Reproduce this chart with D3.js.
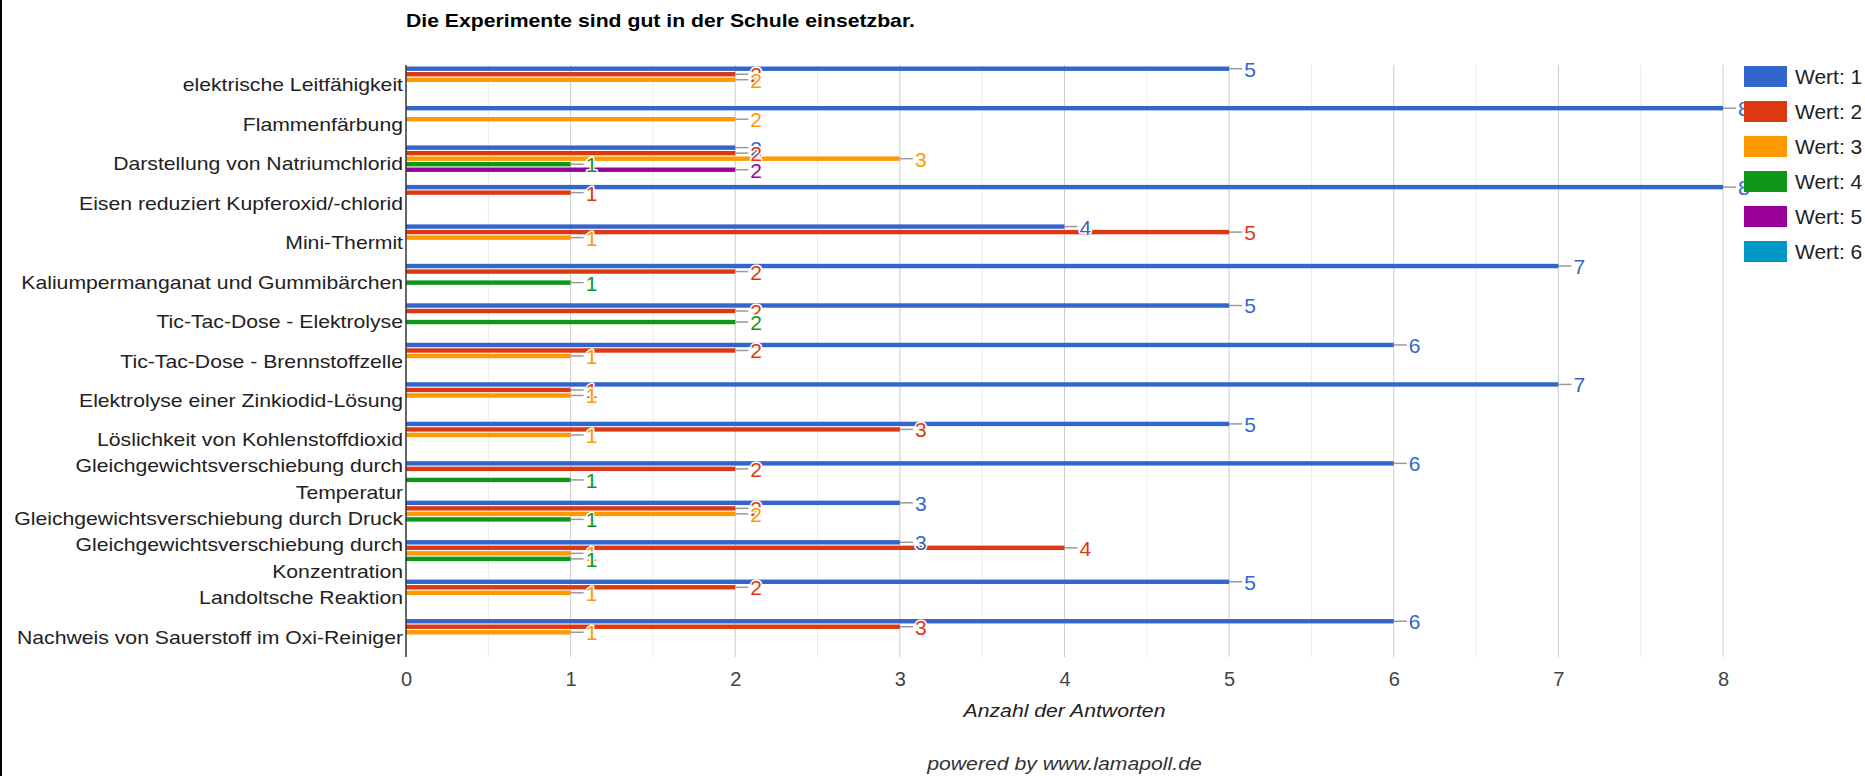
<!DOCTYPE html>
<html>
<head>
<meta charset="utf-8">
<script src="https://cdnjs.cloudflare.com/ajax/libs/d3/7.8.5/d3.min.js"></script>
<style>
  body { margin: 0; background: #fff; }
  svg text { font-family: "Liberation Sans", Arial, sans-serif; }
</style>
</head>
<body>
<svg id="chart"></svg>
<script>
//
// Data
//

var title = 'Die Experimente sind gut in der Schule einsetzbar.'
var axisTitle = 'Anzahl der Antworten'
var footer = 'powered by www.lamapoll.de'

var categories = [
  'elektrische Leitfähigkeit',
  'Flammenfärbung',
  'Darstellung von Natriumchlorid',
  'Eisen reduziert Kupferoxid/-chlorid',
  'Mini-Thermit',
  'Kaliumpermanganat und Gummibärchen',
  'Tic-Tac-Dose - Elektrolyse',
  'Tic-Tac-Dose - Brennstoffzelle',
  'Elektrolyse einer Zinkiodid-Lösung',
  'Löslichkeit von Kohlenstoffdioxid',
  'Gleichgewichtsverschiebung durch Temperatur',
  'Gleichgewichtsverschiebung durch Druck',
  'Gleichgewichtsverschiebung durch Konzentration',
  'Landoltsche Reaktion',
  'Nachweis von Sauerstoff im Oxi-Reiniger'
]

var seriesNames = ['Wert: 1', 'Wert: 2', 'Wert: 3', 'Wert: 4', 'Wert: 5', 'Wert: 6']
var seriesColors = ['#3366cc', '#dc3912', '#ff9900', '#109618', '#990099', '#0099c6']

var wert1 = [5, 8, 2, 8, 4, 7, 5, 6, 7, 5, 6, 3, 3, 5, 6]
var wert2 = [2, 0, 2, 1, 5, 2, 2, 2, 1, 3, 2, 2, 4, 2, 3]
var wert3 = [2, 2, 3, 0, 1, 0, 0, 1, 1, 1, 0, 2, 1, 1, 1]
var wert4 = [0, 0, 1, 0, 0, 1, 2, 0, 0, 0, 1, 1, 1, 0, 0]
var wert5 = [0, 0, 2, 0, 0, 0, 0, 0, 0, 0, 0, 0, 0, 0, 0]
var wert6 = [0, 0, 0, 0, 0, 0, 0, 0, 0, 0, 0, 0, 0, 0, 0]

var xTicks = [0, 1, 2, 3, 4, 5, 6, 7, 8]

//
// Configuration
//

var width = 1865
var height = 776
var plot = { left: 406, right: 1723, top: 65, bottom: 657 }
// text in the reference is a little wider than the font
var stretch = 1.14
var textColor = '#222'

var values = [wert1, wert2, wert3, wert4, wert5, wert6]
var rows = []
categories.forEach(function(c, i) {
  seriesNames.forEach(function(s, j) {
    rows.push({ cat: c, series: s, color: seriesColors[j], value: values[j][i] })
  })
})

var svg = d3.select('#chart').attr('width', width).attr('height', height)

var x = d3.scaleLinear().domain([0, 8]).range([plot.left, plot.right])
var y0 = d3.scaleBand().domain(categories).range([plot.top, plot.bottom])
var y1 = d3.scaleBand().domain(seriesNames).range([1.5, 33.5]).paddingInner(0.2)

function barMid(d) {
  return y0(d.cat) + y1(d.series) + y1.bandwidth() / 2
}

// left frame edge
svg.append('rect').attr('x', 0).attr('y', 0).attr('width', 2).attr('height', height).attr('fill', '#000')

//
// Title
//

svg.append('text')
  .attr('transform', 'translate(' + plot.left + ',27) scale(' + stretch + ',1)')
  .attr('font-size', 18.6)
  .attr('font-weight', 'bold')
  .attr('fill', '#000')
  .text(title)

//
// Grid
//

svg.append('g').selectAll('line')
  .data(d3.range(0.5, 8, 1))
  .enter().append('line')
  .attr('x1', x).attr('x2', x)
  .attr('y1', plot.top).attr('y2', plot.bottom)
  .attr('stroke', '#ebebeb')

svg.append('g').selectAll('line')
  .data(xTicks.slice(1))
  .enter().append('line')
  .attr('x1', x).attr('x2', x)
  .attr('y1', plot.top).attr('y2', plot.bottom)
  .attr('stroke', '#cccccc')

var xAxis = svg.append('g')
  .attr('transform', 'translate(0,' + plot.bottom + ')')
  .call(d3.axisBottom(x).tickValues(xTicks).tickSize(0).tickPadding(15))
xAxis.select('.domain').remove()
xAxis.selectAll('text')
  .attr('font-size', 20)
  .attr('fill', '#444')
  .attr('font-family', '"Liberation Sans", Arial, sans-serif')

//
// Bars
//

svg.append('g').selectAll('rect')
  .data(rows.filter(function(d) { return d.value > 0 }))
  .enter().append('rect')
  .attr('x', x(0))
  .attr('y', function(d) { return y0(d.cat) + y1(d.series) })
  .attr('width', function(d) { return x(d.value) - x(0) })
  .attr('height', y1.bandwidth())
  .attr('fill', function(d) { return d.color })

svg.append('line')
  .attr('x1', x(0)).attr('x2', x(0))
  .attr('y1', plot.top).attr('y2', plot.bottom)
  .attr('stroke', '#333').attr('stroke-width', 1.5)

//
// Category labels (wrapped when too long)
//

var yAxis = svg.append('g')
  .attr('transform', 'translate(' + (plot.left - 3) + ',0)')
  .call(d3.axisLeft(y0).tickSize(0).tickPadding(0))
yAxis.select('.domain').remove()

yAxis.selectAll('text').each(function(label) {
  var t = d3.select(this)
  t.attr('x', 0).attr('dy', null)
    .attr('transform', 'scale(' + stretch + ',1)')
    .attr('font-size', 18.6)
    .attr('fill', textColor)
    .attr('font-family', '"Liberation Sans", Arial, sans-serif')
    .text(null)
  var words = label.split(' ')
  var lines = []
  var line = []
  var probe = t.append('tspan')
  words.forEach(function(w) {
    line.push(w)
    probe.text(line.join(' '))
    if (probe.node().getComputedTextLength() * stretch > 398 && line.length > 1) {
      line.pop()
      lines.push(line.join(' '))
      line = [w]
    }
  })
  lines.push(line.join(' '))
  probe.remove()
  var lh = 27
  lines.forEach(function(l, i) {
    t.append('tspan')
      .attr('x', 0)
      .attr('y', (i - (lines.length - 1) / 2) * lh)
      .attr('dy', '0.35em')
      .text(l)
  })
})

//
// Value labels
//

var labels = svg.append('g').selectAll('g')
  .data(rows.filter(function(d) { return d.value > 0 }))
  .enter().append('g')

labels.append('line')
  .attr('x1', function(d) { return x(d.value) })
  .attr('x2', function(d) { return x(d.value) + 13 })
  .attr('y1', barMid).attr('y2', barMid)
  .attr('stroke', '#999').attr('stroke-width', 1.5)

labels.append('text')
  .attr('x', function(d) { return x(d.value) + 15 })
  .attr('y', barMid)
  .attr('dy', '0.38em')
  .attr('font-size', 21)
  .attr('fill', function(d) { return d.color })
  .attr('stroke', '#fff').attr('stroke-width', 3)
  .attr('stroke-linejoin', 'round')
  .attr('paint-order', 'stroke')
  .text(function(d) { return d.value })

//
// Legend
//

var legend = svg.append('g').selectAll('g')
  .data(seriesNames)
  .enter().append('g')
  .attr('transform', function(d, i) { return 'translate(1744,' + (66 + i * 35) + ')' })

legend.append('rect')
  .attr('width', 43).attr('height', 21)
  .attr('fill', function(d, i) { return seriesColors[i] })

legend.append('text')
  .attr('transform', 'translate(51,18) scale(1.05,1)')
  .attr('font-size', 20)
  .attr('fill', textColor)
  .text(function(d) { return d })

//
// Axis title and footer
//

svg.append('text')
  .attr('transform', 'translate(' + (plot.left + plot.right) / 2 + ',717) scale(' + stretch + ',1)')
  .attr('text-anchor', 'middle')
  .attr('font-size', 18.6)
  .attr('font-style', 'italic')
  .attr('fill', textColor)
  .text(axisTitle)

svg.append('text')
  .attr('transform', 'translate(' + (plot.left + plot.right) / 2 + ',770) scale(' + stretch + ',1)')
  .attr('text-anchor', 'middle')
  .attr('font-size', 18.6)
  .attr('font-style', 'italic')
  .attr('fill', '#333')
  .text(footer)
</script>
</body>
</html>
